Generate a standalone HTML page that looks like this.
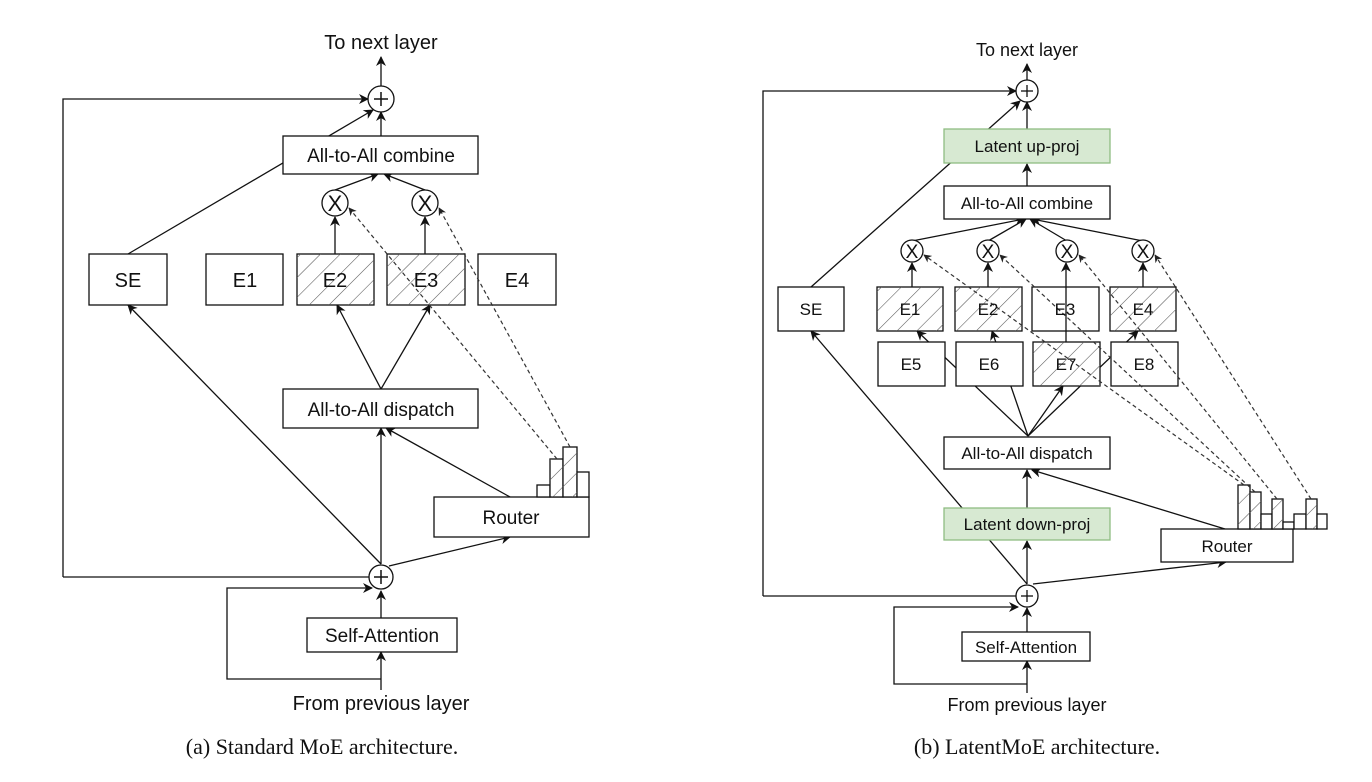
<!DOCTYPE html>
<html><head><meta charset="utf-8"><style>
html,body{margin:0;padding:0;background:#fff;}
svg{display:block;}
text{font-family:"Liberation Sans",sans-serif;fill:#111;}
.cap{font-family:"Liberation Serif",serif;}
</style></head><body>
<svg width="1372" height="782" viewBox="0 0 1372 782" xmlns="http://www.w3.org/2000/svg">
<defs>
<marker id="a" viewBox="0 0 10 10" refX="9" refY="5" markerWidth="10" markerHeight="10" orient="auto-start-reverse" markerUnits="userSpaceOnUse"><path d="M0,0 L10,5 L0,10 L3,5 z" fill="#111"/></marker>
<marker id="s" viewBox="0 0 10 10" refX="9" refY="5" markerWidth="8" markerHeight="8" orient="auto" markerUnits="userSpaceOnUse"><path d="M0,0 L10,5 L0,10 L3,5 z" fill="#222"/></marker>
<pattern id="h" width="14" height="14" patternUnits="userSpaceOnUse" patternTransform="rotate(45)"><line x1="0" y1="0" x2="0" y2="14" stroke="#555" stroke-width="1.1"/></pattern>
</defs>
<g stroke="#111" stroke-width="1.3" fill="none">
<!-- ===== LEFT ===== -->
<line x1="381" y1="86" x2="381" y2="57" marker-end="url(#a)"/>
<polyline points="63,577 63,99 368,99" marker-end="url(#a)"/>
<line x1="128" y1="254" x2="373" y2="110" marker-end="url(#a)"/>
<line x1="381" y1="136" x2="381" y2="112" marker-end="url(#a)"/>
<line x1="335" y1="190" x2="378" y2="174" marker-end="url(#a)"/>
<line x1="425" y1="190" x2="384" y2="174" marker-end="url(#a)"/>
<line x1="335" y1="254" x2="335" y2="217" marker-end="url(#a)"/>
<line x1="425" y1="254" x2="425" y2="217" marker-end="url(#a)"/>
<line x1="381" y1="389" x2="337" y2="305" marker-end="url(#a)"/>
<line x1="381" y1="389" x2="430" y2="305" marker-end="url(#a)"/>
<line x1="381" y1="564" x2="381" y2="428" marker-end="url(#a)"/>
<line x1="510" y1="497" x2="386" y2="428" marker-end="url(#a)"/>
<line x1="381" y1="564" x2="128" y2="305" marker-end="url(#a)"/>
<line x1="389" y1="566" x2="510" y2="537" marker-end="url(#a)"/>
<polyline points="381,577 63,577"/>
<line x1="381" y1="690" x2="381" y2="652" marker-end="url(#a)"/>
<line x1="381" y1="618" x2="381" y2="591" marker-end="url(#a)"/>
<polyline points="381,679 227,679 227,588 372,588" marker-end="url(#a)"/>
</g>
<g stroke="#111" stroke-width="1.3" fill="#fff">
<rect x="283" y="136" width="195" height="38"/>
<rect x="89" y="254" width="78" height="51"/>
<rect x="206" y="254" width="77" height="51"/>
<rect x="297" y="254" width="77" height="51"/>
<rect x="387" y="254" width="78" height="51"/>
<rect x="478" y="254" width="78" height="51"/>
<rect x="283" y="389" width="195" height="39"/>
<rect x="434" y="497" width="155" height="40"/>
<rect x="307" y="618" width="150" height="34"/>
<circle cx="381" cy="99" r="13"/>
<circle cx="381" cy="577" r="12"/>
<circle cx="335" cy="203" r="13"/>
<circle cx="425" cy="203" r="13"/>
<rect x="537" y="485" width="13" height="12"/>
<rect x="550" y="459" width="13" height="38"/>
<rect x="563" y="447" width="14" height="50"/>
<rect x="577" y="472" width="12" height="25"/>
</g>
<g fill="url(#h)" stroke="none">
<rect x="297" y="254" width="77" height="51"/>
<rect x="387" y="254" width="78" height="51"/>
<rect x="550" y="459" width="13" height="38"/>
<rect x="563" y="447" width="14" height="50"/>
</g>
<g stroke="#111" stroke-width="1.5">
<line x1="374" y1="99" x2="388" y2="99"/><line x1="381" y1="92" x2="381" y2="106"/>
<line x1="374" y1="577" x2="388" y2="577"/><line x1="381" y1="570" x2="381" y2="584"/>
</g>
<g stroke="#333" stroke-width="1.2" stroke-dasharray="4,3" fill="none">
<line x1="557" y1="459" x2="349" y2="208" marker-end="url(#s)"/>
<line x1="570" y1="447" x2="439" y2="208" marker-end="url(#s)"/>
</g>
<g font-size="20" text-anchor="middle">
<text x="381" y="49">To next layer</text>
<text x="381" y="162" font-size="19">All-to-All combine</text>
<text x="335" y="211" font-size="22">X</text><text x="425" y="211" font-size="22">X</text>
<text x="128" y="287">SE</text><text x="245" y="287">E1</text><text x="335" y="287">E2</text><text x="426" y="287">E3</text><text x="517" y="287">E4</text>
<text x="381" y="416" font-size="19">All-to-All dispatch</text>
<text x="511" y="524" font-size="19">Router</text>
<text x="382" y="642" font-size="19">Self-Attention</text>
<text x="381" y="710">From previous layer</text>
<text x="322" y="754" class="cap" font-size="22">(a) Standard MoE architecture.</text>
</g>

<!-- ===== RIGHT ===== -->
<g stroke="#111" stroke-width="1.3" fill="none">
<line x1="1027" y1="80" x2="1027" y2="64" marker-end="url(#a)"/>
<polyline points="763,596 763,91 1016,91" marker-end="url(#a)"/>
<line x1="811" y1="287" x2="1020" y2="101" marker-end="url(#a)"/>
<line x1="1027" y1="129" x2="1027" y2="102" marker-end="url(#a)"/>
<line x1="1027" y1="186" x2="1027" y2="164" marker-end="url(#a)"/>
<line x1="912" y1="241" x2="1024" y2="219" marker-end="url(#a)"/>
<line x1="988" y1="241" x2="1026" y2="219" marker-end="url(#a)"/>
<line x1="1067" y1="241" x2="1030" y2="219" marker-end="url(#a)"/>
<line x1="1143" y1="241" x2="1032" y2="219" marker-end="url(#a)"/>
<line x1="1028" y1="436" x2="917" y2="331" marker-end="url(#a)"/>
<line x1="1028" y1="436" x2="992" y2="331" marker-end="url(#a)"/>
<line x1="1028" y1="436" x2="1138" y2="331" marker-end="url(#a)"/>
<line x1="1028" y1="436" x2="1063" y2="386" marker-end="url(#a)"/>
<line x1="1027" y1="584" x2="1027" y2="541" marker-end="url(#a)"/>
<line x1="1027" y1="508" x2="1027" y2="470" marker-end="url(#a)"/>
<line x1="1225" y1="529" x2="1032" y2="470" marker-end="url(#a)"/>
<line x1="1027" y1="584" x2="811" y2="331" marker-end="url(#a)"/>
<line x1="1033" y1="584" x2="1226" y2="562" marker-end="url(#a)"/>
<polyline points="1027,596 763,596"/>
<line x1="1027" y1="693" x2="1027" y2="661" marker-end="url(#a)"/>
<line x1="1027" y1="632" x2="1027" y2="608" marker-end="url(#a)"/>
<polyline points="1027,684 894,684 894,607 1018,607" marker-end="url(#a)"/>
</g>
<g stroke="#111" stroke-width="1.3" fill="#fff">
<rect x="944" y="129" width="166" height="34" fill="#d7e9d2" stroke="#8fbd82"/>
<rect x="944" y="186" width="166" height="33"/>
<rect x="778" y="287" width="66" height="44"/>
<rect x="877" y="287" width="66" height="44"/>
<rect x="955" y="287" width="67" height="44"/>
<rect x="1032" y="287" width="67" height="44"/>
<rect x="1110" y="287" width="66" height="44"/>
<rect x="878" y="342" width="67" height="44"/>
<rect x="956" y="342" width="67" height="44"/>
<rect x="1033" y="342" width="67" height="44"/>
<rect x="1111" y="342" width="67" height="44"/>
<rect x="944" y="437" width="166" height="32"/>
<rect x="944" y="508" width="166" height="32" fill="#d7e9d2" stroke="#8fbd82"/>
<rect x="1161" y="529" width="132" height="33"/>
<rect x="962" y="632" width="128" height="29"/>
<circle cx="1027" cy="91" r="11"/>
<circle cx="1027" cy="596" r="11"/>
<circle cx="912" cy="251" r="11"/>
<circle cx="988" cy="251" r="11"/>
<circle cx="1067" cy="251" r="11"/>
<circle cx="1143" cy="251" r="11"/>
<rect x="1238" y="485" width="12" height="44"/>
<rect x="1250" y="492" width="11" height="37"/>
<rect x="1261" y="514" width="11" height="15"/>
<rect x="1272" y="499" width="11" height="30"/>
<rect x="1283" y="522" width="11" height="7"/>
<rect x="1294" y="514" width="12" height="15"/>
<rect x="1306" y="499" width="11" height="30"/>
<rect x="1317" y="514" width="10" height="15"/>
</g>
<g fill="url(#h)" stroke="none">
<rect x="877" y="287" width="66" height="44"/>
<rect x="955" y="287" width="67" height="44"/>
<rect x="1110" y="287" width="66" height="44"/>
<rect x="1033" y="342" width="67" height="44"/>
<rect x="1238" y="485" width="12" height="44"/>
<rect x="1250" y="492" width="11" height="37"/>
<rect x="1272" y="499" width="11" height="30"/>
<rect x="1306" y="499" width="11" height="30"/>
</g>
<g stroke="#111" stroke-width="1.3">
<line x1="1066" y1="342" x2="1066" y2="263" marker-end="url(#a)"/>
<line x1="912" y1="287" x2="912" y2="263" marker-end="url(#a)"/>
<line x1="988" y1="287" x2="988" y2="263" marker-end="url(#a)"/>
<line x1="1143" y1="287" x2="1143" y2="263" marker-end="url(#a)"/>
<line x1="1021" y1="91" x2="1033" y2="91"/><line x1="1027" y1="85" x2="1027" y2="97"/>
<line x1="1021" y1="596" x2="1033" y2="596"/><line x1="1027" y1="590" x2="1027" y2="602"/>
</g>
<g stroke="#333" stroke-width="1.2" stroke-dasharray="4,3" fill="none">
<line x1="1244" y1="485" x2="924" y2="255" marker-end="url(#s)"/>
<line x1="1255" y1="492" x2="1000" y2="255" marker-end="url(#s)"/>
<line x1="1277" y1="499" x2="1079" y2="255" marker-end="url(#s)"/>
<line x1="1311" y1="499" x2="1155" y2="255" marker-end="url(#s)"/>
</g>
<g font-size="17" text-anchor="middle">
<text x="1027" y="56" font-size="18">To next layer</text>
<text x="1027" y="152">Latent up-proj</text>
<text x="1027" y="209">All-to-All combine</text>
<text x="912" y="258" font-size="19">X</text><text x="988" y="258" font-size="19">X</text><text x="1067" y="258" font-size="19">X</text><text x="1143" y="258" font-size="19">X</text>
<text x="811" y="315">SE</text><text x="910" y="315">E1</text><text x="988" y="315">E2</text><text x="1065" y="315">E3</text><text x="1143" y="315">E4</text>
<text x="911" y="370">E5</text><text x="989" y="370">E6</text><text x="1066" y="370">E7</text><text x="1144" y="370">E8</text>
<text x="1027" y="459">All-to-All dispatch</text>
<text x="1027" y="530">Latent down-proj</text>
<text x="1227" y="552">Router</text>
<text x="1026" y="653">Self-Attention</text>
<text x="1027" y="711" font-size="18">From previous layer</text>
<text x="1037" y="754" class="cap" font-size="22">(b) LatentMoE architecture.</text>
</g>
</svg>
</body></html>
